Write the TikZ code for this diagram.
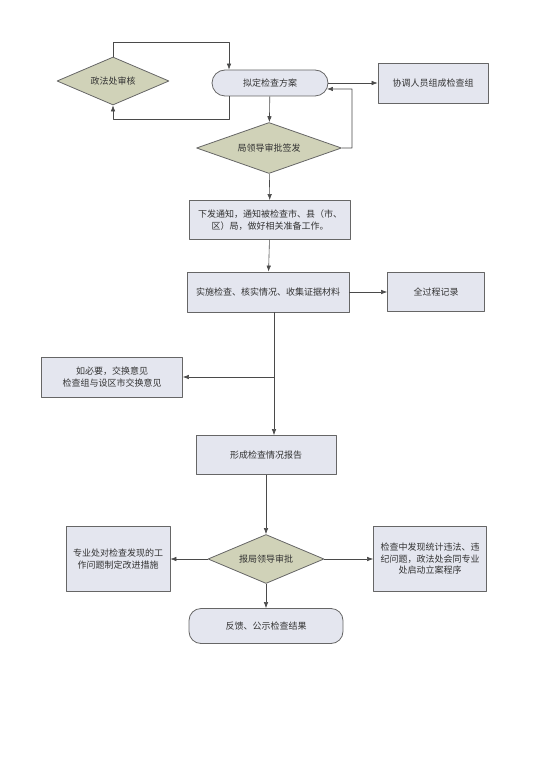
\documentclass[tikz,border=0pt]{standalone}
\usepackage{fontspec}
\setmainfont{Noto Sans CJK SC}
\usetikzlibrary{shapes.geometric,shapes.misc,arrows.meta}
\definecolor{boxfill}{HTML}{E4E6EF}
\definecolor{dmdfill}{HTML}{D0D2B8}
\definecolor{linegray}{HTML}{4A4A4A}
\begin{document}
\begin{tikzpicture}[x=1pt,y=-1pt,line join=round,font=\fontsize{9}{11.5}\selectfont,
	every node/.style={text=black!80,align=center,inner sep=0pt},
	box/.style={draw=black!60,fill=boxfill,line width=.8pt},
	dmd/.style={diamond,aspect=2.4,draw=black!60,fill=dmdfill,line width=.8pt},
	pill/.style={rounded rectangle,draw=black!60,fill=boxfill,line width=.8pt},
	arr/.style={draw=linegray,line width=.6pt,-{Latex[length=6pt,width=4.5pt]}}]
		\useasboundingbox (0,0) rectangle (547,775);
		% upper part
		\path (113,81) node[dmd,minimum width=112,minimum height=48] (zf) {政法处审核}
			(270,83) node[pill,minimum width=116,minimum height=26] (nd) {拟定检查方案}
			(433,83) node[box,minimum width=110,minimum height=40] (xt) {协调人员组成检查组}
			(269,148) node[dmd,minimum width=145,minimum height=51] (ld) {局领导审批签发}
			(270,220) node[box,minimum width=161,minimum height=39] (xf) {下发通知，通知被检查市、县（市、\\区）局，做好相关准备工作。}
			(268,292) node[box,minimum width=162,minimum height=40] (ss) {实施检查、核实情况、收集证据材料}
			(436,292) node[box,minimum width=97,minimum height=39] (qg) {全过程记录};
		% lower part
		\path (112,377) node[box,minimum width=141,minimum height=40] (rb) {如必要，交换意见\\检查组与设区市交换意见}
			(266,455) node[box,minimum width=140,minimum height=39] (xc) {形成检查情况报告}
			(266,559) node[dmd,minimum width=116,minimum height=49] (bp) {报局领导审批}
			(118,559) node[box,minimum width=104,minimum height=65] (zy) {专业处对检查发现的工\\作问题制定改进措施}
			(430,559) node[box,minimum width=113,minimum height=65] (jc) {检查中发现统计违法、违\\纪问题，政法处会同专业\\处启动立案程序}
			(266,626) node[box,rounded corners=12pt,minimum width=154,minimum height=35] (fk) {反馈、公示检查结果};
		\coordinate (t1) at (229,42);
		\coordinate (b1) at (229,119);
		\coordinate (c2) at (352,89);
		\coordinate (j1) at (274,377);
		\draw[arr] (zf.north) |- (t1) -- (t1 |- nd.north);
		\draw[arr] (b1 |- nd.south) -- (b1) -| (zf.south);
		\draw[arr] (ld.east) -| (c2) -- (nd.-6);
		\draw[arr] (nd.east) -- (xt.west);
		\draw[arr] (nd) -- (ld);
		\draw[arr] (ld) -- (xf);
		\draw[arr] (xf) -- (ss);
		\draw[arr] (ss) -- (qg);
		\draw[linegray,line width=.6pt] (j1 |- ss.south) -- (j1);
		\draw[arr] (j1) -- (rb.east);
		\draw[arr] (j1) -- (j1 |- xc.north);
		\draw[arr] (xc) -- (bp);
		\foreach \t in {zy,jc,fk}
			\draw[arr] (bp) -- (\t);
\end{tikzpicture}
\end{document}
